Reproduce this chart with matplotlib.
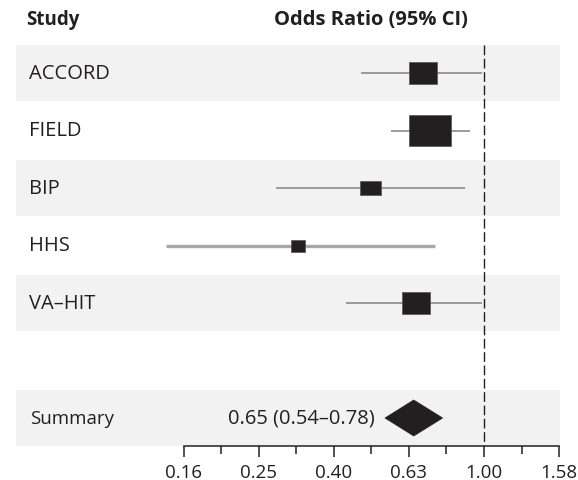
import numpy as np
import matplotlib
matplotlib.use("Agg")
import matplotlib.pyplot as plt
from matplotlib.patches import Rectangle, Polygon
from matplotlib.transforms import blended_transform_factory

plt.rcParams['font.family'] = ['Open Sans', 'DejaVu Sans']

# ---- data ----
studies = ["ACCORD", "FIELD", "BIP", "HHS", "VA\u2013HIT"]
odds_ratio = [0.69, 0.72, 0.50, 0.32, 0.66]
ci_low = [0.47, 0.565, 0.28, 0.142, 0.43]
ci_high = [0.99, 0.92, 0.89, 0.74, 0.99]
box_w_px = [28, 42, 21, 14.5, 27.5]
box_h_px = [22, 31, 14, 12, 22]
summary_label = "Summary"
summary_or = 0.65
summary_low = 0.545
summary_high = 0.776
summary_text = "0.65 (0.54\u20130.78)"
tick_labels = ["0.16", "0.25", "0.40", "0.63", "1.00", "1.58"]
tick_exps = [-0.8, -0.6, -0.4, -0.2, 0.0, 0.2]
minor_exps = [-0.7, -0.5, -0.3, -0.1, 0.1]

# ---- layout ----
W, H = 578, 481
PPD = 375.6          # pixels per decade
X1 = 484.0           # pixel of OR = 1
ROW0 = 74.0          # pixel y of first row
PITCH = 57.5
AX_BOTTOM = 447.0
dark = "#231f20"
band_col = "#f2f2f2"

fig = plt.figure(figsize=(W / 100, H / 100), dpi=100)
ax = fig.add_axes([0, (H - AX_BOTTOM) / H, 1, AX_BOTTOM / H])
ax.set_xscale('log')
ax.set_xlim(10 ** ((0 - X1) / PPD), 10 ** ((W - X1) / PPD))
ax.set_ylim((AX_BOTTOM - ROW0) / PITCH, (0 - ROW0) / PITCH)
ax.patch.set_alpha(0)

n = len(studies)
summary_row = n + 1
half_band = 28 / PITCH

# bands
for i in range(0, summary_row + 1, 2):
    ax.axhspan(i - half_band, i + half_band, xmin=16 / W, xmax=560 / W,
               color=band_col, zorder=0, lw=0)

# reference line
ax.vlines(1.0, -half_band, (AX_BOTTOM - ROW0) / PITCH, colors=dark,
          linewidth=1.0, linestyles=(0, (7, 2.6)), zorder=2)

tr_lab = blended_transform_factory(ax.transAxes, ax.transData)

for i, (name, o, lo, hi, bw, bh) in enumerate(zip(studies, odds_ratio, ci_low, ci_high,
                                                  box_w_px, box_h_px)):
    if name == "HHS":
        ax.plot([lo, hi], [i, i], color="#a8a8a8", lw=2.4, zorder=3, solid_capstyle='butt')
    else:
        ax.plot([lo, hi], [i, i], color="#8a8a8a", lw=1.2, zorder=3, solid_capstyle='butt')
    hw = bw / 2 / PPD
    left = o * 10 ** (-hw)
    right = o * 10 ** (hw)
    hh = bh / 2 / PITCH
    ax.add_patch(Rectangle((left, i - hh), right - left, 2 * hh, facecolor=dark,
                           edgecolor="#555555", lw=0.5, zorder=4))
    ax.text(29 / W, i, name, transform=tr_lab, ha='left', va='center',
            fontsize=14.5, color=dark)

# summary
dh = 18 / PITCH
ax.add_patch(Polygon([(summary_low, summary_row), (summary_or, summary_row - dh),
                      (summary_high, summary_row), (summary_or, summary_row + dh)],
                     closed=True, facecolor=dark, edgecolor=dark, lw=0.5, zorder=4))
ax.text(30 / W, summary_row, summary_label, transform=tr_lab, ha='left', va='center',
        fontsize=13.5, color=dark)
ax.text(summary_low * 10 ** (-10 / PPD), summary_row, summary_text, ha='right', va='center',
        fontsize=14.5, color=dark)

# headers
hy = (20 - ROW0) / PITCH
ax.text(26 / W, hy, "Study", transform=tr_lab, ha='left', va='center',
        fontsize=13.5, fontweight='bold', color=dark)
ax.text(10 ** (np.mean([tick_exps[0], tick_exps[-1]])), hy, "Odds Ratio (95% CI)",
        ha='center', va='center', fontsize=14.5, fontweight='bold', color=dark)

# axis
for s in ['top', 'left', 'right']:
    ax.spines[s].set_visible(False)
ax.spines['bottom'].set_bounds(10 ** tick_exps[0], 10 ** tick_exps[-1])
ax.spines['bottom'].set_linewidth(1.1)
ax.spines['bottom'].set_color(dark)
ax.set_yticks([])
ax.set_xticks([10 ** e for e in tick_exps])
ax.set_xticklabels(tick_labels)
ax.set_xticks([10 ** e for e in minor_exps], minor=True)
ax.set_xticklabels([], minor=True)
ax.tick_params(axis='x', which='major', length=8, width=1.1, color=dark,
               labelsize=13.5, labelcolor=dark, pad=4, direction='out')
ax.tick_params(axis='x', which='minor', length=6, width=1.1, color=dark, direction='out')

fig.savefig("out.png", dpi=100)
